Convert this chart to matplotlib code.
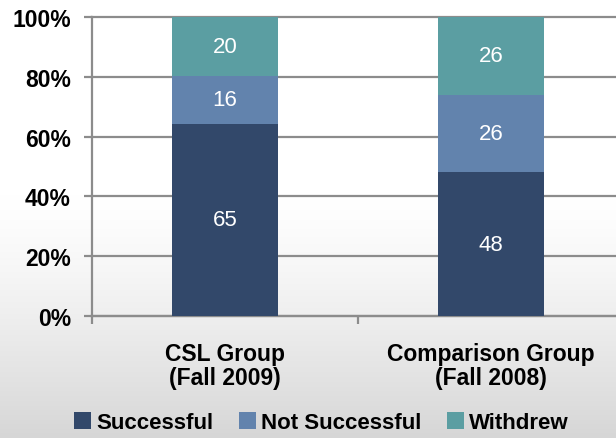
import matplotlib
matplotlib.use("Agg")
import matplotlib.pyplot as plt
import numpy as np
from matplotlib.patches import Patch

categories = ["CSL Group\n(Fall 2009)", "Comparison Group\n(Fall 2008)"]
series = ["Successful", "Not Successful", "Withdrew"]
successful = [65, 48]
not_successful = [16, 26]
withdrew = [20, 26]
yticks = [0, 20, 40, 60, 80, 100]
ytick_labels = ["0%", "20%", "40%", "60%", "80%", "100%"]
colors = ["#32486a", "#6283ad", "#5b9ea2"]

plt.rcParams['font.family'] = ['Liberation Sans', 'DejaVu Sans']

fig = plt.figure(figsize=(6.16, 4.39), dpi=100)

# background gradient
bg = fig.add_axes([0, 0, 1, 1], zorder=-10)
t = np.linspace(0, 1, 256)
shade = np.where(t < 0.45, 1.0, 1.0 - 0.16 * ((t - 0.45) / 0.55) ** 1.3)
img = shade[:, None, None] * np.ones((256, 2, 3))
bg.imshow(img, aspect='auto', extent=[0, 1, 0, 1], origin='upper')
bg.axis('off')

ax = fig.add_axes([0.149, 0.278, 0.851, 0.681])
ax.patch.set_alpha(0)

counts = np.array([successful, not_successful, withdrew], dtype=float)
totals = counts.sum(axis=0)
pct = counts / totals * 100
x = np.arange(len(categories))
bottom = np.zeros(len(categories))
for vals, pvals, c, name in zip(counts, pct, colors, series):
    bars = ax.bar(x, pvals, 0.40, bottom=bottom, color=c, label=name, zorder=3)
    ax.bar_label(bars, labels=[f"{int(v)}" for v in vals], label_type='center',
                 color='white', fontsize=16)
    bottom += pvals

gc = '#8c8c8c'
ax.set_xlim(-0.5, -0.5 + 524 / 266)
ax.set_ylim(0, 100)
ax.set_yticks(yticks)
ax.set_yticklabels(ytick_labels, fontsize=16.5, fontweight='bold')
ax.set_xticks(x)
ax.set_xticklabels(categories, fontsize=16.5, fontweight='bold', linespacing=1.05)
ax.set_xticks([-0.5, 0.5], minor=True)
ax.tick_params(axis='x', which='major', length=0, pad=19)
ax.tick_params(axis='x', which='minor', length=6, width=1.6, color=gc)
ax.tick_params(axis='y', length=6, width=1.6, color=gc, pad=9)
ax.set_axisbelow(True)
ax.yaxis.grid(True, color=gc, lw=1.6, zorder=0)
for s in ['top', 'right']:
    ax.spines[s].set_visible(False)
for s in ['left', 'bottom']:
    ax.spines[s].set_color(gc)
    ax.spines[s].set_linewidth(1.6)
for gl in ax.yaxis.get_gridlines():
    gl.set_clip_on(False)

handles = [Patch(facecolor=c, edgecolor='none', label=n) for c, n in zip(colors, series)]
fig.legend(handles=handles, loc='center', bbox_to_anchor=(0.522, 0.035), ncol=3,
           frameon=False, prop={'size': 16, 'weight': 'bold'},
           handlelength=0.75, handleheight=0.75, handletextpad=0.25, columnspacing=1.15)

fig.savefig("out.png", dpi=100)
